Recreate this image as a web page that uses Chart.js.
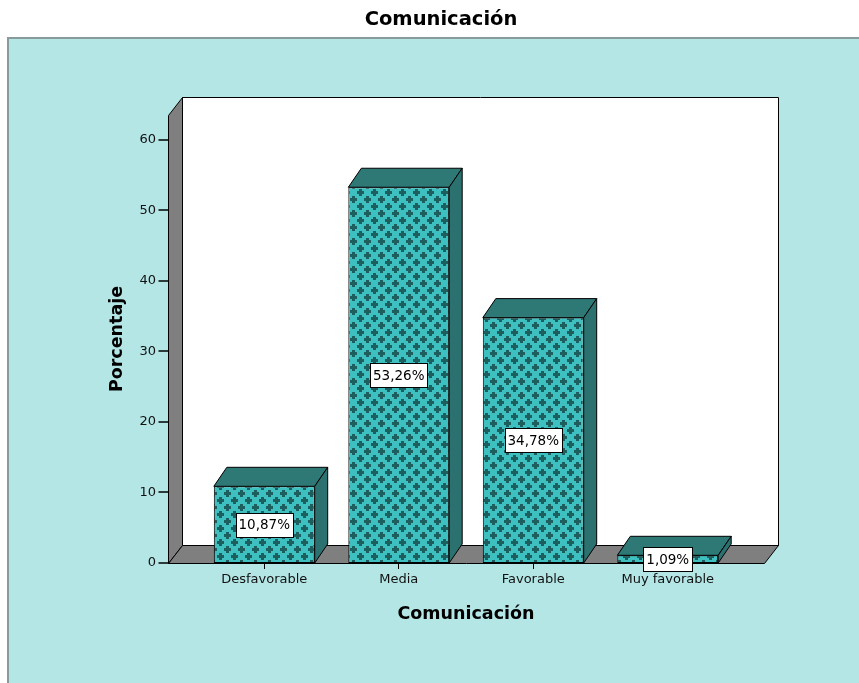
<!DOCTYPE html>
<html>
<head>
<meta charset="utf-8">
<script src="https://cdn.jsdelivr.net/npm/chart.js@4.4.1/dist/chart.umd.min.js"></script>
<style>
html, body { margin: 0; padding: 0; background: #fff; }
</style>
</head>
<body>
<canvas id="barChart" width="859" height="683"></canvas>
<script>
// datos
var categorias = ["Desfavorable", "Media", "Favorable", "Muy favorable"];
var porcentajes = [10.87, 53.26, 34.78, 1.09];
var ticksY = [0, 10, 20, 30, 40, 50, 60];
var maxY = 63.5;

var ctx = document.getElementById("barChart").getContext('2d');

// relleno de cruces para la cara frontal de las barras
function patronCruces() {
  var c = document.createElement('canvas');
  c.width = 14; c.height = 14;
  var g = c.getContext('2d');
  g.fillStyle = '#3fc0c0';
  g.fillRect(0, 0, 14, 14);
  g.fillStyle = '#1d5e5e';
  g.fillRect(0, 2, 7, 3); g.fillRect(2, 0, 3, 7);
  g.fillRect(7, 9, 7, 3); g.fillRect(9, 7, 3, 7);
  return ctx.createPattern(c, 'repeat');
}

function poligono(c, pts, color) {
  c.beginPath();
  c.moveTo(pts[0][0], pts[0][1]);
  for (var k = 1; k < pts.length; k++) c.lineTo(pts[k][0], pts[k][1]);
  c.closePath();
  c.fillStyle = color;
  c.fill();
  c.stroke();
}

var EXTRA = 29;   // el suelo sobresale del área de categorías
var caja3d = {
  id: 'caja3d',
  beforeDraw: function(chart) {
    var c = chart.ctx;
    c.save();
    c.fillStyle = '#fff';
    c.fillRect(0, 0, chart.width, chart.height);
    c.fillStyle = '#b4e6e6';
    c.fillRect(8, 38, chart.width - 8, chart.height - 38);
    c.strokeStyle = '#889a9a';
    c.lineWidth = 2;
    c.beginPath();
    c.moveTo(8, chart.height); c.lineTo(8, 38); c.lineTo(chart.width, 38);
    c.stroke();
    c.fillStyle = '#000';
    c.font = 'bold 19.5px "DejaVu Sans"';
    c.textAlign = 'center';
    c.textBaseline = 'middle';
    c.fillText('Comunicación', 441, 20);
    c.restore();
  },
  beforeDatasetsDraw: function(chart) {
    var a = chart.chartArea, c = chart.ctx;
    var fl = Math.round(a.left - EXTRA) + 0.5, fr = Math.round(a.right + EXTRA) + 0.5;
    var ft = Math.round(a.top) + 0.5, fb = Math.round(a.bottom) + 0.5;
    var dx = 14, dy = -18;
    c.save();
    c.lineWidth = 1;
    c.strokeStyle = '#000';
    // pared del fondo
    poligono(c, [[fl + dx, ft + dy], [fr + dx, ft + dy], [fr + dx, fb + dy], [fl + dx, fb + dy]], '#fff');
    // pared izquierda
    poligono(c, [[fl, ft], [fl + dx, ft + dy], [fl + dx, fb + dy], [fl, fb]], '#7f7f7f');
    // suelo
    poligono(c, [[fl, fb], [fr, fb], [fr + dx, fb + dy], [fl + dx, fb + dy]], '#7f7f7f');
    // marcas del eje Y
    var ey = chart.scales.y;
    c.lineWidth = 1.5;
    ey.ticks.forEach(function(t) {
      var py = Math.round(ey.getPixelForValue(t.value));
      c.beginPath();
      c.moveTo(fl - 10, py); c.lineTo(fl, py);
      c.stroke();
    });
    c.restore();
  },
  afterDatasetsDraw: function(chart) {
    var c = chart.ctx;
    var meta = chart.getDatasetMeta(0);
    var dx = 13, dy = -19;
    c.save();
    c.lineWidth = 1;
    c.strokeStyle = '#000';
    meta.data.forEach(function(bar) {
      var p = bar.getProps(['x', 'y', 'base', 'width'], true);
      var l = p.x - p.width / 2, r = p.x + p.width / 2, t = p.y, b = p.base;
      poligono(c, [[l, t], [r, t], [r + dx, t + dy], [l + dx, t + dy]], '#2e7876');
      poligono(c, [[r, t], [r + dx, t + dy], [r + dx, b + dy], [r, b]], '#2b716f');
    });
    // etiquetas de porcentaje
    c.font = '13.5px "DejaVu Sans"';
    c.textAlign = 'center';
    c.textBaseline = 'middle';
    meta.data.forEach(function(bar, i) {
      var p = bar.getProps(['x', 'y', 'base'], true);
      var txt = porcentajes[i].toFixed(2).replace('.', ',') + '%';
      var w = Math.round(c.measureText(txt).width) + 6, h = 24;
      var cy = (p.y + p.base) / 2;
      var bx = Math.round(p.x - w / 2) + 0.5, by = Math.round(cy - h / 2) + 0.5;
      c.fillStyle = '#fff';
      c.fillRect(bx, by, w, h);
      c.strokeRect(bx, by, w, h);
      c.fillStyle = '#000';
      c.fillText(txt, p.x, cy + 1);
    });
    c.restore();
  }
};

Chart.defaults.font.family = "'DejaVu Sans', sans-serif";
Chart.defaults.color = '#111';

var myBarChart = new Chart(ctx, {
  type: 'bar',
  data: {
    labels: categorias,
    datasets: [{
      label: "Porcentaje",
      data: porcentajes,
      backgroundColor: patronCruces(),
      borderColor: '#000',
      borderWidth: 1,
      borderSkipped: false,
      categoryPercentage: 1,
      barPercentage: 0.75
    }]
  },
  options: {
    responsive: false,
    animation: false,
    layout: { padding: { left: 0, top: 115, right: 124, bottom: 58 } },
    plugins: {
      legend: { display: false },
      tooltip: { enabled: false }
    },
    scales: {
      x: {
        offset: true,
        grid: { display: true, drawOnChartArea: false, offset: false, tickLength: 6, color: '#000', tickWidth: 1 },
        border: { display: false },
        ticks: { padding: 3, font: { size: 13 }, color: '#111' },
        title: { display: true, text: 'Comunicación', font: { size: 17.5, weight: 'bold' }, color: '#000', padding: { top: 0, bottom: 0 } },
        afterFit: function(s) { s.height = 62; }
      },
      y: {
        min: 0,
        max: maxY,
        grid: { display: false, drawTicks: false },
        border: { display: false },
        ticks: { padding: 41, font: { size: 13 }, color: '#111' },
        afterBuildTicks: function(s) { s.ticks = ticksY.map(function(v) { return { value: v }; }); },
        title: { display: true, text: 'Porcentaje', font: { size: 17.5, weight: 'bold' }, color: '#000', padding: { top: 107, bottom: 0 } },
        afterFit: function(s) { s.width = 197; }
      }
    }
  },
  plugins: [caja3d]
});
</script>
</body>
</html>
